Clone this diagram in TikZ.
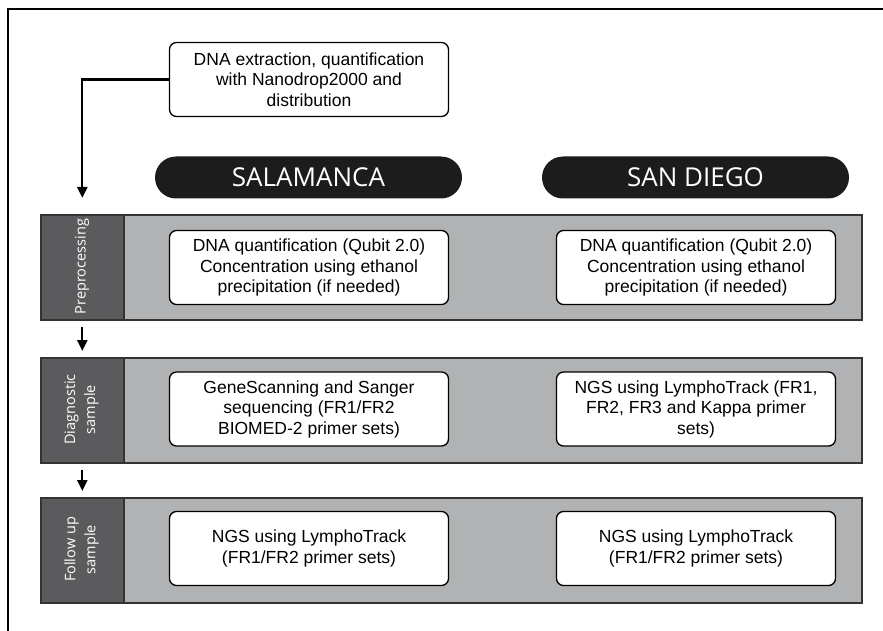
\documentclass[tikz,border=0pt]{standalone}
\usepackage{fontspec}
\setmainfont{Liberation Sans}
\newfontfamily\osans{Open Sans}
\usetikzlibrary{arrows.meta}
\definecolor{bandgray}{HTML}{B1B2B4}
\definecolor{labelgray}{HTML}{5B5B5D}
\definecolor{edgegray}{HTML}{333333}
\definecolor{pillblack}{HTML}{1C1C1C}
\begin{document}
\begin{tikzpicture}[x=1pt,y=-1pt,
  txtbox/.style={draw=black, line width=1.3pt, rounded corners=7pt, fill=white,
    minimum width=279pt, minimum height=74pt, align=center, inner sep=0pt,
    font=\fontsize{17.5}{20.5}\selectfont},
  band/.style={draw=edgegray, line width=1.6pt, fill=bandgray, anchor=north west,
    minimum width=821pt, minimum height=105pt, inner sep=0pt},
  lab/.style={draw=edgegray, line width=1.6pt, fill=labelgray, anchor=north west,
    minimum width=83pt, minimum height=105pt, inner sep=0pt},
  labtext/.style={rotate=90, text=white, align=center, inner sep=0pt,
    font=\osans\fontsize{14.5}{20}\selectfont},
  pill/.style={fill=pillblack, rounded corners=21pt, minimum width=307pt,
    minimum height=42pt, text=white, inner sep=0pt,
    font=\osans\fontsize{26}{30}\selectfont},
  flow/.style={line width=2.2pt, -{Triangle[width=10pt,length=11pt]}}]
\useasboundingbox (0,0) rectangle (883,631);
% frame
\draw[line width=2pt] (8,640) -- (8,9.5) -- (890,9.5);
% top box
\node[txtbox] (top) at (309,79.5) {DNA extraction, quantification\\with Nanodrop2000 and\\distribution};
% pills
\node[pill] (sal) at (308.5,177.5) {SALAMANCA};
\node[pill] (sd) at (695.5,177.5) {SAN DIEGO};
% bands
\node[band] (b1) at (40,214) {};
\node[lab] (l1) at (40,214) {};
\node[labtext] (t1) at (82,266.5) {Preprocessing};
\node[band] (b2) at (40,357) {};
\node[lab] (l2) at (40,357) {};
\node[labtext] (t2) at (81.5,409.5) {Diagnostic\\sample};
\node[band] (b3) at (40,497) {};
\node[lab] (l3) at (40,497) {};
\node[labtext] (t3) at (81.5,549.5) {Follow up\\sample};
% boxes
\node[txtbox] (p1) at (309,267.5) {DNA quantification (Qubit 2.0)\\Concentration using ethanol\\precipitation (if needed)};
\node[txtbox] (p2) at (696,267.5) {DNA quantification (Qubit 2.0)\\Concentration using ethanol\\precipitation (if needed)};
\node[txtbox] (d1) at (309,409) {GeneScanning and Sanger\\sequencing (FR1/FR2\\BIOMED-2 primer sets)};
\node[txtbox] (d2) at (696,409) {NGS using LymphoTrack (FR1,\\FR2, FR3 and Kappa primer\\sets)};
\node[txtbox] (f1) at (309,548.5) {NGS using LymphoTrack\\(FR1/FR2 primer sets)};
\node[txtbox] (f2) at (696,548.5) {NGS using LymphoTrack\\(FR1/FR2 primer sets)};
% connectors
\draw[flow, shorten >=16pt] (top.west) -| (l1.north);
\draw[flow, shorten <=6pt, shorten >=6pt] (l1.south) -- (l2.north);
\draw[flow, shorten <=6pt, shorten >=6pt] (l2.south) -- (l3.north);
\end{tikzpicture}
\end{document}
